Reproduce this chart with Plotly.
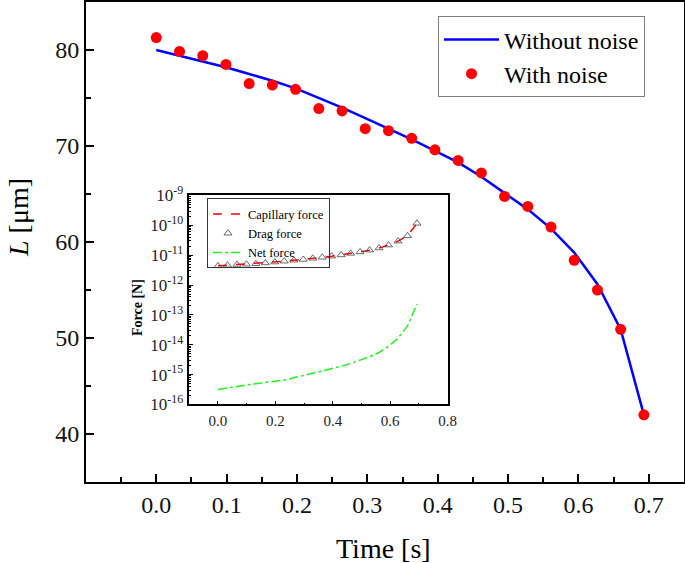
import plotly.graph_objects as go

# ---- main panel data ----
time_s = [0.000, 0.033, 0.066, 0.099, 0.132, 0.165, 0.198, 0.231, 0.264, 0.297, 0.330,
          0.363, 0.396, 0.429, 0.462, 0.495, 0.528, 0.561, 0.594, 0.627, 0.660, 0.693]
L_without_noise = [80.0, 79.4, 78.8, 78.2, 77.5, 76.8, 76.0, 75.0, 74.0, 72.9, 71.8,
                   70.7, 69.5, 68.3, 66.8, 65.1, 63.4, 61.4, 58.9, 55.6, 50.9, 42.0]
L_with_noise = [81.3, 79.85, 79.4, 78.5, 76.5, 76.35, 75.9, 73.9, 73.65, 71.8, 71.6,
                70.8, 69.6, 68.5, 67.2, 64.75, 63.7, 61.55, 58.1, 55.0, 50.9, 42.0]

# ---- inset data ----
capillary_force = [4.4e-12, 4.6e-12, 4.9e-12, 5.0e-12, 5.2e-12, 5.5e-12, 5.9e-12, 6.3e-12,
                   6.8e-12, 7.2e-12, 7.9e-12, 8.5e-12, 9.3e-12, 1.02e-11, 1.15e-11, 1.29e-11,
                   1.48e-11, 1.74e-11, 2.19e-11, 2.95e-11, 4.47e-11, 1.17e-10]
drag_force = [4.4e-12, 4.6e-12, 4.9e-12, 5.0e-12, 5.2e-12, 5.5e-12, 5.9e-12, 6.3e-12,
              6.8e-12, 7.2e-12, 7.9e-12, 8.5e-12, 9.3e-12, 1.02e-11, 1.15e-11, 1.29e-11,
              1.48e-11, 1.74e-11, 2.19e-11, 2.95e-11, 4.47e-11, 1.17e-10]
net_force = [3.2e-16, 3.5e-16, 4.0e-16, 4.5e-16, 4.9e-16, 5.4e-16, 5.9e-16, 6.6e-16,
             7.8e-16, 9.3e-16, 1.1e-15, 1.3e-15, 1.55e-15, 1.9e-15, 2.35e-15, 3.0e-15,
             4.0e-15, 5.5e-15, 8.9e-15, 1.66e-14, 4.2e-14, 2.3e-13]

inset_y_ticks = [1e-16, 1e-15, 1e-14, 1e-13, 1e-12, 1e-11, 1e-10, 1e-9]
inset_y_labels = ["10<sup>-16</sup>", "10<sup>-15</sup>", "10<sup>-14</sup>", "10<sup>-13</sup>",
                  "10<sup>-12</sup>", "10<sup>-11</sup>", "10<sup>-10</sup>", "10<sup>-9</sup>"]

FONT = "Liberation Serif, Times New Roman, DejaVu Serif, serif"

fig = go.Figure()

fig.add_trace(go.Scatter(x=time_s, y=L_without_noise, mode="lines", name="Without noise",
                         line=dict(color="#0000ff", width=2.5), xaxis="x", yaxis="y",
                         legend="legend"))
fig.add_trace(go.Scatter(x=time_s, y=L_with_noise, mode="markers", name="With noise",
                         marker=dict(color="#ff0000", size=11), xaxis="x", yaxis="y",
                         legend="legend"))

fig.add_trace(go.Scatter(x=time_s, y=capillary_force, mode="lines", name="Capillary force",
                         line=dict(color="#ff0000", width=1.5, dash="dash"),
                         xaxis="x2", yaxis="y2", legend="legend2"))
fig.add_trace(go.Scatter(x=time_s, y=drag_force, mode="markers", name="Drag force",
                         marker=dict(symbol="triangle-up-open", color="#444444", size=7,
                                     line=dict(width=0.8)),
                         xaxis="x2", yaxis="y2", legend="legend2"))
fig.add_trace(go.Scatter(x=time_s, y=net_force, mode="lines", name="Net force",
                         line=dict(color="#22ee22", width=1.5, dash="dashdot"),
                         xaxis="x2", yaxis="y2", legend="legend2"))

main_axis = dict(showgrid=False, zeroline=False, showline=True, linecolor="black",
                 linewidth=2, mirror=True, ticks="inside", ticklen=8, tickwidth=2,
                 tickcolor="black", tickfont=dict(family=FONT, size=24, color="#111"))

fig.update_layout(
    width=685, height=563,
    margin=dict(l=86, r=1, t=2, b=81, autoexpand=False),
    paper_bgcolor="white", plot_bgcolor="white",
    font=dict(family=FONT, color="black"),
    xaxis=dict(main_axis, domain=[0, 1], range=[-0.0999, 0.75], tick0=0, dtick=0.1,
               tickformat=".1f", ticklabelstandoff=0,
               minor=dict(ticks="inside", ticklen=5, tickwidth=2, dtick=0.05, tick0=0,
                          tickcolor="black")),
    yaxis=dict(main_axis, domain=[0, 1], range=[35, 85], tick0=0, dtick=10,
               ticklabelstandoff=0,
               minor=dict(ticks="inside", ticklen=5, tickwidth=2, dtick=5, tick0=0,
                          tickcolor="black")),
    xaxis2=dict(domain=[0.1727, 0.6048], anchor="y2", range=[-0.1, 0.8], tick0=0, dtick=0.2,
                tickformat=".1f", showgrid=False, zeroline=False, showline=True,
                linecolor="black", linewidth=1.5, mirror=True, ticks="inside", ticklen=4,
                tickwidth=1, tickcolor="black", ticklabelstandoff=2,
                tickfont=dict(family=FONT, size=15, color="#222"),
                minor=dict(ticks="inside", ticklen=2, dtick=0.1, tick0=0, tickcolor="black")),
    yaxis2=dict(domain=[0.1615, 0.5969], anchor="x2", type="log", range=[-16, -9],
                tickmode="array", tickvals=inset_y_ticks, ticktext=inset_y_labels,
                showgrid=False, zeroline=False, showline=True, linecolor="black",
                linewidth=1.5, mirror=True, ticks="inside", ticklen=4, tickwidth=1,
                tickcolor="black", ticklabelstandoff=1,
                tickfont=dict(family=FONT, size=17, color="#222"),
                minor=dict(ticks="inside", ticklen=2, dtick="D1", tickcolor="black",
                           showgrid=False)),
    legend=dict(x=0.5886, y=0.97, xanchor="left", yanchor="top",
                bgcolor="white", bordercolor="#808080", borderwidth=1,
                font=dict(family=FONT, size=24, color="black"), itemwidth=55,
                tracegroupgap=0),
    legend2=dict(x=0.2023, y=0.591, xanchor="left", yanchor="top",
                 bgcolor="rgba(0,0,0,0)", bordercolor="#333333", borderwidth=1,
                 font=dict(family=FONT, size=12.5, color="black"), itemwidth=30,
                 tracegroupgap=0),
    annotations=[
        dict(text="Time [s]", xref="paper", yref="paper", x=0.498, y=-0.1375,
             xanchor="center", yanchor="middle", showarrow=False,
             font=dict(family=FONT, size=28, color="black")),
        dict(text="<i>L</i> [μm]", xref="paper", yref="paper", x=-0.112, y=0.55,
             xanchor="center", yanchor="middle", showarrow=False, textangle=-90,
             font=dict(family=FONT, size=28, color="black")),
        dict(text="<b>Force [N]</b>", xref="paper", yref="paper", x=0.0853, y=0.3625,
             xanchor="center", yanchor="middle", showarrow=False, textangle=-90,
             font=dict(family=FONT, size=14, color="black")),
    ],
)

fig.write_html("out.html", config={"displayModeBar": False},
               post_script="document.body.style.margin='0';document.body.style.padding='0';")
